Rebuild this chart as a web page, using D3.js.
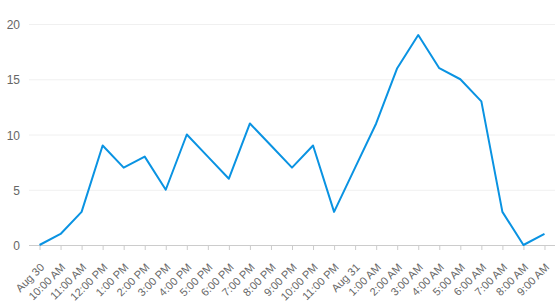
<!DOCTYPE html>
<html>
<head>
<meta charset="utf-8">
<script src="https://cdn.jsdelivr.net/npm/d3@7"></script>
<style>
  body { margin: 0; background: #fff; }
  svg text { font-family: "Liberation Sans", Arial, sans-serif; }
</style>
</head>
<body>
<svg id="chart" width="559" height="303"></svg>
<script>
// hourly labels, Aug 30 9:00 AM -> Aug 31 9:00 AM
var hours = ["Aug 30", "10:00 AM", "11:00 AM", "12:00 PM", "1:00 PM", "2:00 PM", "3:00 PM",
  "4:00 PM", "5:00 PM", "6:00 PM", "7:00 PM", "8:00 PM", "9:00 PM", "10:00 PM", "11:00 PM",
  "Aug 31", "1:00 AM", "2:00 AM", "3:00 AM", "4:00 AM", "5:00 AM", "6:00 AM", "7:00 AM",
  "8:00 AM", "9:00 AM"];
var counts = [0, 1, 3, 9, 7, 8, 5, 10, 8, 6, 11, 9, 7, 9, 3, 7, 11, 16, 19, 16, 15, 13, 3, 0, 1];
var yTicks = [0, 5, 10, 15, 20];

var svg = d3.select("#chart");
var plotLeft = 29, plotRight = 555, plotTop = 24, plotBottom = 245;

var x = d3.scalePoint().domain(hours).range([plotLeft, plotRight]).padding(0.5);
var y = d3.scaleLinear().domain([0, 20]).range([plotBottom, plotTop]);

// grid
svg.append("g").selectAll("line").data(yTicks.filter(function(d){ return d > 0; }))
  .enter().append("line")
    .attr("x1", plotLeft).attr("x2", plotRight)
    .attr("y1", function(d){ return y(d) + 0.5; })
    .attr("y2", function(d){ return y(d) + 0.5; })
    .attr("stroke", "#f0f0f0");

// y labels
svg.append("g").selectAll("text").data(yTicks)
  .enter().append("text")
    .attr("x", 20)
    .attr("y", function(d){ return y(d) + 1; })
    .attr("dy", "0.35em")
    .attr("text-anchor", "end")
    .attr("font-size", 12)
    .attr("fill", "#666")
    .text(function(d){ return d; });

// x axis
var xAxis = svg.append("g")
  .attr("transform", "translate(0," + plotBottom + ")")
  .call(d3.axisBottom(x).tickSize(5).tickSizeOuter(0));
xAxis.select(".domain").attr("stroke", "#ccc").attr("d", "M" + plotLeft + ",0.5H" + plotRight);
xAxis.selectAll(".tick line").attr("stroke", "#ccc");
xAxis.selectAll(".tick text")
  .attr("font-size", 11)
  .attr("fill", "#666")
  .attr("text-anchor", "end")
  .attr("dx", null).attr("dy", null).attr("y", null)
  .attr("transform", "translate(5,23) rotate(-45)");

// line
var line = d3.line()
  .x(function(d, i){ return x(hours[i]); })
  .y(function(d){ return y(d); })
  .curve(d3.curveLinear);

svg.append("path")
  .datum(counts)
  .attr("d", line)
  .attr("fill", "none")
  .attr("stroke", "#0a93e2")
  .attr("stroke-width", 2)
  .attr("stroke-linejoin", "round");
</script>
</body>
</html>
